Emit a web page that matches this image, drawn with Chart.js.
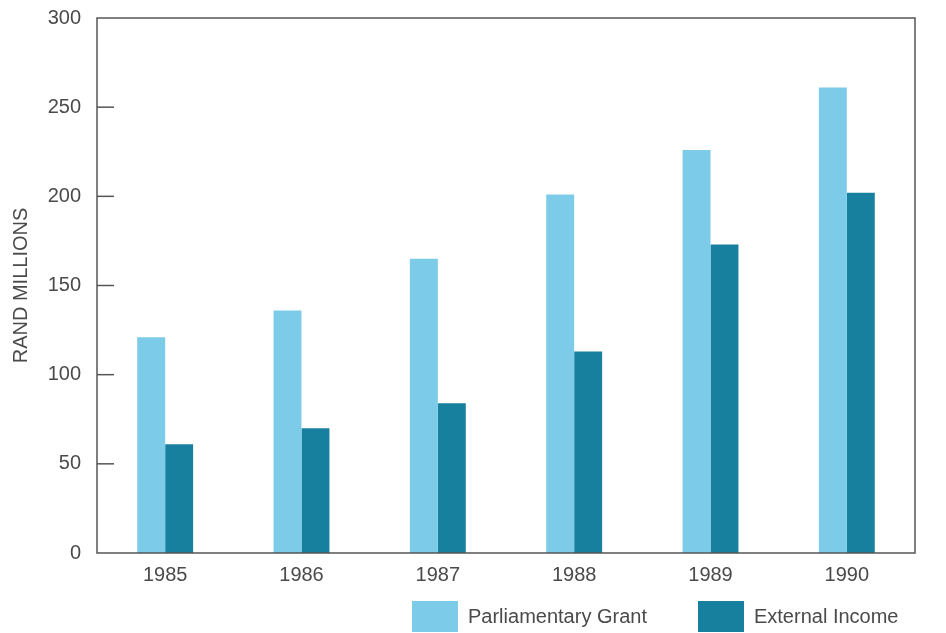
<!DOCTYPE html>
<html>
<head>
<meta charset="utf-8">
<script src="https://cdn.jsdelivr.net/npm/chart.js@4.4.1/dist/chart.umd.min.js"></script>
<style>
  html, body { margin: 0; padding: 0; background: #fff; }
  #wrap { position: relative; width: 946px; height: 633px; }
  #legend {
    position: absolute; left: 412px; top: 601px;
    display: flex; align-items: center; white-space: nowrap;
    font-family: 'Liberation Sans', Arial, sans-serif; font-size: 20px; color: #4a4a4a;
  }
  #legend .item { display: flex; align-items: center; flex-shrink: 0; margin-right: 51px; }
  #legend .box { width: 46px; height: 31px; margin-right: 10px; flex-shrink: 0; }
</style>
</head>
<body>
<div id="wrap">
  <canvas id="incomeChart" width="946" height="633"></canvas>
  <div id="legend"></div>
</div>
<script>
// Data (rand millions)
const years = ['1985', '1986', '1987', '1988', '1989', '1990'];
const parliamentaryGrant = [121, 136, 165, 201, 226, 261];
const externalIncome = [61, 70, 84, 113, 173, 202];
const yTicks = [0, 50, 100, 150, 200, 250, 300];

const seriesNames = ['Parliamentary Grant', 'External Income'];
const seriesColors = ['#7ccce9', '#18809f'];

const textColor = '#4a4a4a';
const lineColor = '#555';

// frame around plot + short inward ticks on the y axis
const framePlugin = {
    id: 'frame',
    afterDraw(chart) {
        const ctx = chart.ctx;
        const area = chart.chartArea;
        const y = chart.scales.y;
        ctx.save();
        ctx.strokeStyle = lineColor;
        ctx.lineWidth = 1.5;
        ctx.strokeRect(area.left, area.top, area.right - area.left, area.bottom - area.top);
        yTicks.forEach(v => {
            if (v === 0 || v === 300) return;
            const py = y.getPixelForValue(v);
            ctx.beginPath();
            ctx.moveTo(area.left, py);
            ctx.lineTo(area.left + 17, py);
            ctx.stroke();
        });
        ctx.restore();
    }
};

const chart = new Chart(document.getElementById('incomeChart'), {
    type: 'bar',
    data: {
        labels: years,
        datasets: [{
            label: seriesNames[0],
            data: parliamentaryGrant,
            backgroundColor: seriesColors[0]
        }, {
            label: seriesNames[1],
            data: externalIncome,
            backgroundColor: seriesColors[1]
        }]
    },
    options: {
        responsive: false,
        animation: false,
        layout: {
            padding: { left: 0, right: 31, top: 18, bottom: 36 }
        },
        datasets: {
            bar: {
                categoryPercentage: 0.41,
                barPercentage: 1.0
            }
        },
        plugins: {
            tooltip: { enabled: false },
            legend: { display: false }
        },
        scales: {
            x: {
                grid: { display: false, drawTicks: false },
                border: { display: false },
                ticks: {
                    color: textColor,
                    padding: 10,
                    font: { family: 'Liberation Sans', size: 20 }
                }
            },
            y: {
                min: 0,
                max: 300,
                afterFit(scale) {
                    scale.width = 97;
                    scale.paddingTop = 0;
                    scale.paddingBottom = 0;
                },
                afterBuildTicks(scale) {
                    scale.ticks = yTicks.map(v => ({ value: v }));
                },
                grid: { display: false, drawTicks: false },
                border: { display: false },
                title: {
                    display: true,
                    text: 'RAND MILLIONS',
                    color: textColor,
                    padding: { top: 9, bottom: 0 },
                    font: { family: 'Liberation Sans', size: 20 }
                },
                ticks: {
                    color: textColor,
                    padding: 16,
                    font: { family: 'Liberation Sans', size: 20 }
                }
            }
        }
    },
    plugins: [framePlugin]
});

// HTML legend built from the chart's datasets
document.getElementById('legend').innerHTML = chart.data.datasets.map(ds =>
    `<div class="item"><div class="box" style="background:${ds.backgroundColor}"></div><span>${ds.label}</span></div>`
).join('');
</script>
</body>
</html>
